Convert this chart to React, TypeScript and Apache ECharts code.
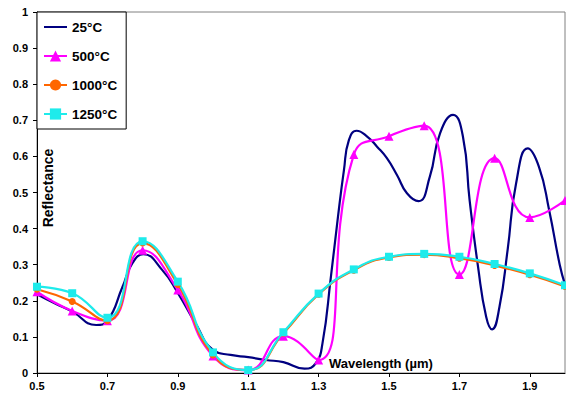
import React, { useEffect, useRef } from "react";
import * as echarts from "echarts";

const tickLabels = [
  "0.5", "0.6", "0.7", "0.8", "0.9", "1.0", "1.1", "1.2",
  "1.3", "1.4", "1.5", "1.6", "1.7", "1.8", "1.9", "2.0",
];
const sampledWavelengths = [0.5, 0.6, 0.7, 0.8, 0.9, 1.0, 1.1, 1.2, 1.3, 1.4, 1.5, 1.6, 1.7, 1.8, 1.9, 2.0];
const x25 = [
  0.5, 0.55, 0.6, 0.668, 0.7, 0.743, 0.771, 0.802, 0.856, 0.9, 0.95, 1.0, 1.05, 1.1, 1.15, 1.2,
  1.26, 1.292, 1.311, 1.335, 1.354, 1.372, 1.386, 1.408, 1.438, 1.466, 1.494, 1.523, 1.551, 1.584,
  1.616, 1.645, 1.682, 1.71, 1.729, 1.753, 1.776, 1.793, 1.814, 1.837, 1.861, 1.894, 1.926, 1.955,
  1.985, 2.0,
];
const r25 = [
  0.218, 0.193, 0.17, 0.133, 0.145, 0.239, 0.304, 0.329, 0.285, 0.222, 0.138, 0.064, 0.05, 0.044, 0.036, 0.03,
  0.012, 0.027, 0.082, 0.267, 0.424, 0.562, 0.645, 0.671, 0.655, 0.627, 0.595, 0.548, 0.498, 0.476,
  0.544, 0.664, 0.715, 0.655, 0.479, 0.294, 0.156, 0.121, 0.184, 0.341, 0.525, 0.622, 0.571, 0.451,
  0.3, 0.245,
];
const r500 = [0.225, 0.172, 0.145, 0.34, 0.23, 0.047, 0.008, 0.102, 0.036, 0.605, 0.656, 0.685, 0.273, 0.595, 0.431, 0.478];
const r1000 = [0.232, 0.198, 0.145, 0.36, 0.245, 0.05, 0.008, 0.11, 0.218, 0.285, 0.32, 0.328, 0.318, 0.298, 0.272, 0.24];
const r1250 = [0.239, 0.221, 0.153, 0.365, 0.253, 0.057, 0.008, 0.113, 0.22, 0.287, 0.322, 0.33, 0.322, 0.302, 0.276, 0.243];
const seriesNames = ["25°C", "500°C", "1000°C", "1250°C"];

const FONT = "Arial, 'Liberation Sans', sans-serif";

export default function App() {
  const ref = useRef<HTMLDivElement>(null);
  useEffect(() => {
    if (!ref.current) return;
    const chart = echarts.init(ref.current, null, { renderer: "svg" });
    const pairs = (xs: number[], vals: number[]) => xs.map((w, i) => [w, vals[i]]);
    chart.setOption({
      animation: false,
      grid: {
        left: 37, right: 1, top: 12, bottom: 24,
        show: true, borderColor: "#808080", borderWidth: 1, backgroundColor: "#fff",
      },
      legend: {
        orient: "vertical",
        left: 37, top: 12,
        padding: [8, 9, 8, 6],
        itemWidth: 23, itemHeight: 14, itemGap: 15,
        backgroundColor: "#fff",
        borderColor: "#000", borderWidth: 1,
        textStyle: { fontFamily: FONT, fontWeight: "bold", fontSize: 13.5, color: "#000" },
        data: [
          { name: seriesNames[0], itemStyle: { color: "rgba(0,0,0,0)", borderColor: "rgba(0,0,0,0)", borderWidth: 0 } },
          seriesNames[1], seriesNames[2], seriesNames[3],
        ],
      },
      xAxis: [
        { type: "value", min: 0.5, max: 2.0, show: false },
        {
          type: "category",
          data: tickLabels,
          boundaryGap: false,
          position: "bottom",
          axisLine: { lineStyle: { color: "#000", width: 1 } },
          axisTick: { interval: 1, length: 4, lineStyle: { color: "#000" } },
          axisLabel: { interval: 1, margin: 7, color: "#000", fontFamily: FONT, fontWeight: "bold", fontSize: 11 },
          splitLine: { show: false },
        },
      ],
      yAxis: {
        type: "value",
        min: 0, max: 1, interval: 0.1,
        axisLine: { show: true, lineStyle: { color: "#000", width: 1 } },
        axisTick: { show: true, length: 4, lineStyle: { color: "#000" } },
        axisLabel: { margin: 9, color: "#000", fontFamily: FONT, fontWeight: "bold", fontSize: 11 },
        splitLine: { show: false },
      },
      graphic: [
        {
          type: "text", x: 48, y: 188, rotation: Math.PI / 2,
          style: { text: "Reflectance", fontFamily: FONT, fontWeight: "bold", fontSize: 14, fill: "#000", align: "center", verticalAlign: "middle" },
        },
        {
          type: "text", x: 329, y: 363,
          style: { text: "Wavelength (µm)", fontFamily: FONT, fontWeight: "bold", fontSize: 13, fill: "#000", align: "left", verticalAlign: "middle" },
        },
      ],
      series: [
        {
          name: seriesNames[0], type: "line", xAxisIndex: 0, smooth: 0.5, symbol: "none",
          data: pairs(x25, r25), lineStyle: { color: "#000080", width: 2.2 }, itemStyle: { color: "#000080" },
        },
        {
          name: seriesNames[1], type: "line", xAxisIndex: 0, smooth: 0.5, symbol: "triangle", symbolSize: 9,
          data: pairs(sampledWavelengths, r500), lineStyle: { color: "#FF00FF", width: 2.2 }, itemStyle: { color: "#FF00FF" },
        },
        {
          name: seriesNames[2], type: "line", xAxisIndex: 0, smooth: 0.5, symbol: "circle", symbolSize: 7,
          data: pairs(sampledWavelengths, r1000), lineStyle: { color: "#FF6600", width: 2.2 }, itemStyle: { color: "#FF6600" },
        },
        {
          name: seriesNames[3], type: "line", xAxisIndex: 0, smooth: 0.5, symbol: "rect", symbolSize: 8,
          data: pairs(sampledWavelengths, r1250), lineStyle: { color: "#1EEBEB", width: 2.2 }, itemStyle: { color: "#1EEBEB" },
        },
      ],
    });
    return () => chart.dispose();
  }, []);
  return <div ref={ref} style={{ width: 566, height: 397, position: "absolute", left: 0, top: 0 }} />;
}
